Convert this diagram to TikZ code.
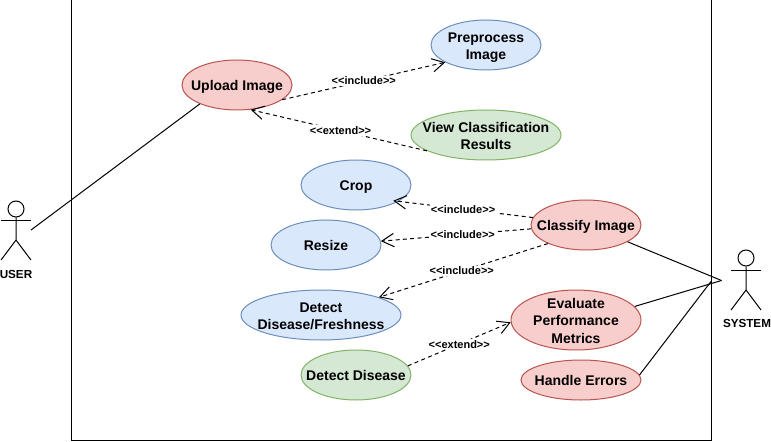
\documentclass[tikz,border=0pt]{standalone}
\usepackage{fontspec}
\setmainfont{Liberation Sans}
\usetikzlibrary{positioning, calc}
\usetikzlibrary{arrows.meta}
\usetikzlibrary{shapes,arrows}
\definecolor{redfill}{HTML}{F8CECC}
\definecolor{redline}{HTML}{B85450}
\definecolor{bluefill}{HTML}{DAE8FC}
\definecolor{blueline}{HTML}{6C8EBF}
\definecolor{greenfill}{HTML}{D5E8D4}
\definecolor{greenline}{HTML}{82B366}

\begin{document}
\begin{tikzpicture}[x=0.75pt,y=-0.75pt,line width=0.75pt,draw=black!100]
	\useasboundingbox (0,0) rectangle (771,442);
	\tikzstyle{case}=[ellipse,draw,inner sep=0pt]
	\tikzstyle{case-text}=[inner sep=0pt,yshift=-1.75pt,align=center,font=\fontsize{10.5}{12.9}\selectfont\bfseries,execute at begin node=\vphantom{Ag},execute at end node=\vphantom{Ag}]
	\tikzstyle{red-case}=[case,fill=redfill,draw=redline]
	\tikzstyle{blue-case}=[case,fill=bluefill,draw=blueline]
	\tikzstyle{green-case}=[case,fill=greenfill,draw=greenline]
	\tikzstyle{actor-name}=[inner sep=0pt,font=\fontsize{8.75}{10}\selectfont\bfseries]
	\tikzstyle{head}=[circle,draw,inner sep=0pt,minimum size=12pt]
	\tikzstyle{dep}=[dashed,dash pattern=on 3pt off 2.5pt,-{Straight Barb[length=9pt,width=10pt,line width=0.75pt]}]
	\tikzstyle{dep-label}=[midway,fill=white,inner sep=1pt,font=\fontsize{8.25}{10}\selectfont\bfseries]

	\node[draw,minimum width=480pt,minimum height=330pt,inner sep=0pt] (boundary) at (391,220) {};

	% use cases
	\node[red-case,minimum width=82.5pt,minimum height=37.5pt,label={[case-text]center:Upload Image}] 	(upload)	at (237,85)	{};
	\node[blue-case,minimum width=82.5pt,minimum height=37.5pt,label={[case-text]center:{Preprocess\\Image}}] 	(preprocess)	at (486,45)	{};
	\node[green-case,minimum width=112.5pt,minimum height=37.5pt,label={[case-text]center:{View Classification\\Results}}] 	(results)	at (486,135)	{};
	\node[blue-case,minimum width=82.5pt,minimum height=37.5pt,label={[case-text]center:Crop}] 	(crop)	at (356,185)	{};
	\node[blue-case,minimum width=82.5pt,minimum height=37.5pt,label={[case-text]center:Resize}] 	(resize)	at (326,245)	{};
	\node[blue-case,minimum width=120pt,minimum height=37.5pt,label={[case-text]center:{Detect\\Disease/Freshness}}] 	(freshness)	at (321,315)	{};
	\node[green-case,minimum width=82.5pt,minimum height=37.5pt,label={[case-text]center:Detect Disease}] 	(disease)	at (356,375)	{};
	\node[red-case,minimum width=82.5pt,minimum height=37.5pt,label={[case-text]center:Classify Image}] 	(classify)	at (586,225)	{};
	\node[red-case,minimum width=97.5pt,minimum height=45pt,label={[case-text]center:{Evaluate\\Performance\\Metrics}}] 	(metrics)	at (576,320)	{};
	\node[red-case,minimum width=90pt,minimum height=30pt,label={[case-text]center:Handle Errors}] 	(errors)	at (581,380)	{};

	% actors
	\node[head] 	(userhead)	at (16,209)	{};
	\draw (userhead.south) -- (16,240) -- (1,260);
	\draw (16,240) -- (31,260);
	\draw (1,220) -- (31,220);
	\node[actor-name] 	(username)	at (16,274)	{USER};
	\node[head] 	(systemhead)	at (746,258)	{};
	\draw (systemhead.south) -- (746,290) -- (731,310);
	\draw (746,290) -- (761,310);
	\draw (731,270) -- (761,270);
	\node[actor-name] 	(systemname)	at (747,323)	{SYSTEM};
	\coordinate (userport) at (31,230);
	\coordinate (systemport) at (721.5,280.5);
	\coordinate (systemjoin) at (711,281.5);

	% associations
	\draw (userport) -- (upload.207);
	\draw (classify.-22) -- (systemport);
	\draw (metrics.13) -- (systemport);
	\draw (errors.5) -- (systemjoin);

	% dependencies
	\draw[dep] (upload.-18) -- node[dep-label] {<{}<include>{}>} (preprocess.203);
	\draw[dep] (results.195) -- node[dep-label,pos=.49] {<{}<extend>{}>} (upload.-61);
	\draw[dep,shorten >=-4pt] (classify.172) -- node[dep-label,pos=.52] {<{}<include>{}>} (crop.-21);
	\draw[dep] (classify.184) -- node[dep-label,pos=.455] {<{}<include>{}>} (resize.4);
	\draw[dep] (classify.206) -- node[dep-label,pos=.51] {<{}<include>{}>} (freshness.17);
	\draw[dep] (disease.10) -- node[dep-label] {<{}<extend>{}>} (metrics.182);
\end{tikzpicture}
\end{document}
